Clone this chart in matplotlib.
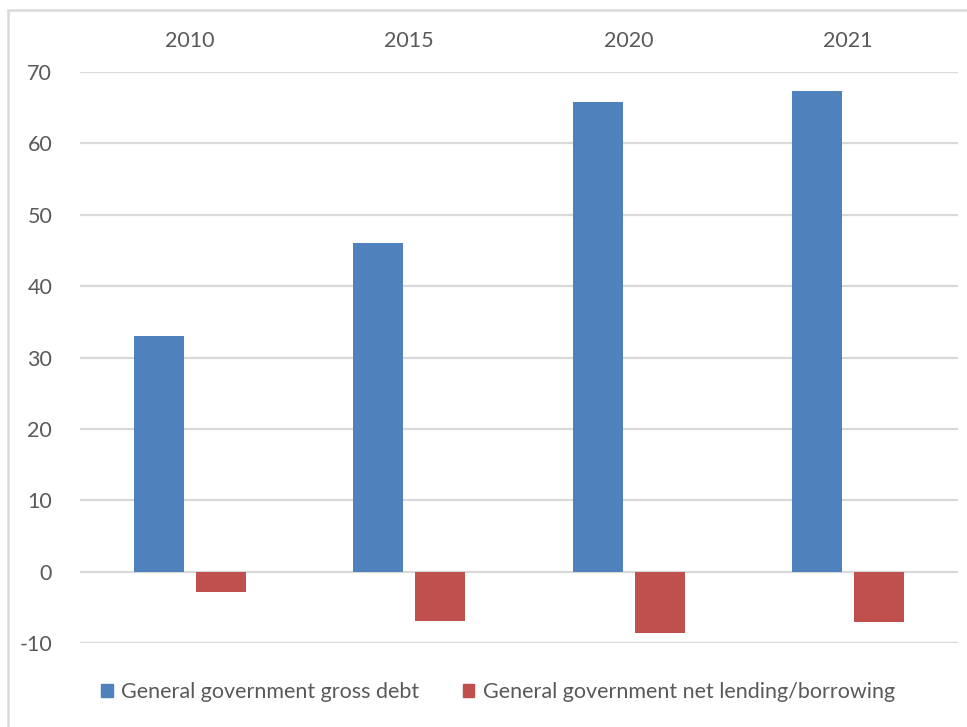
import matplotlib.pyplot as plt
import numpy as np
from matplotlib.patches import Rectangle, Patch

years = ["2010", "2015", "2020", "2021"]
gross_debt = [33.0, 46.0, 65.8, 67.3]
net_lending = [-2.9, -6.9, -8.6, -7.0]

blue = "#4f81bd"
red = "#c0504d"
grey = "#595959"

plt.rcParams["font.family"] = ["Lato", "DejaVu Sans"]
plt.rcParams["axes.unicode_minus"] = False

fig = plt.figure(figsize=(9.67, 7.27), dpi=100)
ax = fig.add_axes([80 / 967, 84 / 727, 878 / 967, 571 / 727])

x = np.arange(len(years))
w = 0.228
off = 0.142
ax.bar(x - off, gross_debt, w, color=blue, zorder=3)
ax.bar(x + off, net_lending, w, color=red, zorder=3)

ax.set_xlim(-0.5, len(years) - 0.5)
ax.set_ylim(-10, 70)
ax.set_yticks(range(-10, 71, 10))
ax.yaxis.grid(True, color="#d9d9d9", linewidth=1.6)
ax.set_axisbelow(True)

ax.xaxis.tick_top()
ax.set_xticks(x)
ax.set_xticklabels(years)
ax.tick_params(axis="x", length=0, pad=15, labelsize=15.5, colors=grey)
ax.tick_params(axis="y", length=0, pad=20, labelsize=15.5, colors=grey)
for s in ax.spines.values():
    s.set_visible(False)

handles = [Patch(color=blue, label="General government gross debt"),
           Patch(color=red, label="General government net lending/borrowing")]
leg = fig.legend(handles=handles, loc="center", ncol=2, frameon=False,
                 bbox_to_anchor=(498 / 967, 1 - 692 / 727), fontsize=15.5,
                 handlelength=0.55, handleheight=0.55, handletextpad=0.4,
                 columnspacing=2.0)
for t in leg.get_texts():
    t.set_color(grey)

# outer chart frame
fig.patches.append(Rectangle((8 / 967, -0.1), 1.2, 1 - 10 / 727 + 0.1,
                             transform=fig.transFigure, fill=False,
                             edgecolor="#d9d9d9", linewidth=1.8))

fig.savefig("out.png", dpi=100)
